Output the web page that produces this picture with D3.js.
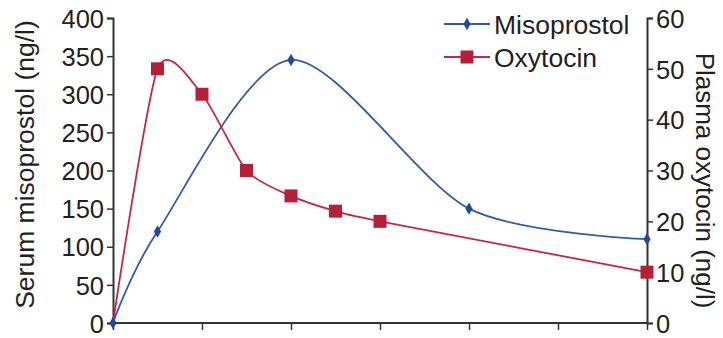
<!DOCTYPE html>
<html>
<head>
<meta charset="utf-8">
<script src="https://cdn.jsdelivr.net/npm/d3@7"></script>
<style>
  body { margin: 0; background: #fff; }
  svg text { font-family: "Liberation Sans", Arial, sans-serif; fill: #231f20; }
</style>
</head>
<body>
<div id="chart"></div>
<script>
// time points (x axis, no labels visible in the source)
const misoTimes = [0, 0.5, 2, 4, 6]
const misoValues = [0, 120, 345, 150, 110]          // serum misoprostol ng/l (left axis)
const oxyTimes = [0, 0.5, 1, 1.5, 2, 2.5, 3, 6]
const oxyValues = [0, 50, 45, 30, 25, 22, 20, 10]   // plasma oxytocin ng/l (right axis)
const xTicks = [0, 1, 2, 3, 4, 5, 6]
const leftTicks = [0, 50, 100, 150, 200, 250, 300, 350, 400]
const rightTicks = [0, 10, 20, 30, 40, 50, 60]
const seriesNames = ['Misoprostol', 'Oxytocin']

let W = 723, H = 338
let margin = {top: 18, right: 76, bottom: 15, left: 113}
let width = W - margin.left - margin.right,
    height = H - margin.top - margin.bottom

const blue = '#2f5ba8', blueDark = '#1f4a9c',
      red = '#c4283f', redDark = '#b51f37',
      axisCol = '#333'

let svg = d3.select('#chart').append('svg')
    .attr('width', W)
    .attr('height', H)
  .append('g')
    .attr('transform', `translate(${margin.left}, ${margin.top})`)

let x = d3.scaleLinear().domain([0, 6]).range([0, width])
let yL = d3.scaleLinear().domain([0, 400]).range([height, 0])
let yR = d3.scaleLinear().domain([0, 60]).range([height, 0])

// Axes
let xAxis = svg.append('g')
    .attr('transform', `translate(0, ${height})`)
    .call(d3.axisBottom(x).tickValues(xTicks).tickSize(7).tickFormat(''))
let left = svg.append('g')
    .call(d3.axisLeft(yL).tickValues(leftTicks).tickSize(6).tickPadding(3))
let right = svg.append('g')
    .attr('transform', `translate(${width}, 0)`)
    .call(d3.axisRight(yR).tickValues(rightTicks).tickSize(6).tickPadding(3))

;[xAxis, left, right].forEach(g => {
  g.select('.domain').attr('stroke', axisCol).attr('stroke-width', 2)
  g.selectAll('.tick line').attr('stroke', axisCol).attr('stroke-width', 1.5)
  g.selectAll('.tick text').style('font-size', '25.5px').attr('fill', '#231f20')
})
xAxis.select('.domain').attr('d', `M0,0H${width}`)
left.selectAll('.tick text').attr('dy', '0.36em')
right.selectAll('.tick text').attr('dy', '0.36em')

// Axis titles
svg.append('text')
    .attr('transform', 'rotate(-90)')
    .attr('x', -height / 2 + 6)
    .attr('y', -margin.left + 34)
    .style('text-anchor', 'middle')
    .style('font-size', '26.5px')
    .text('Serum misoprostol (ng/l)')

svg.append('text')
    .attr('transform', `translate(${width + 49}, ${height / 2 + 10}) rotate(90)`)
    .style('text-anchor', 'middle')
    .style('font-size', '26px')
    .text('Plasma oxytocin (ng/l)')

// Lines (smoothed like the original)
let misoData = misoTimes.map((t, i) => [t, misoValues[i]])
let oxyData = oxyTimes.map((t, i) => [t, oxyValues[i]])

let misoLine = d3.line()
    .x(d => x(d[0])).y(d => yL(d[1]))
    .curve(d3.curveCardinal.tension(0.15))
let oxyLine = d3.line()
    .x(d => x(d[0])).y(d => yR(d[1]))
    .curve(d3.curveCardinal.tension(0.3))

svg.append('path')
    .datum(misoData)
    .attr('d', misoLine)
    .attr('fill', 'none')
    .attr('stroke', blue)
    .attr('stroke-width', 1.8)

svg.append('path')
    .datum(oxyData)
    .attr('d', oxyLine)
    .attr('fill', 'none')
    .attr('stroke', red)
    .attr('stroke-width', 1.8)

let diamond = d3.symbol().type(d3.symbolDiamond).size(45)

svg.selectAll('.miso')
    .data(misoData)
    .enter()
  .append('path')
    .attr('class', 'miso')
    .attr('d', diamond)
    .attr('transform', d => `translate(${x(d[0])}, ${yL(d[1])})`)
    .attr('fill', blueDark)

svg.selectAll('.oxy')
    .data(oxyData.slice(1))
    .enter()
  .append('rect')
    .attr('class', 'oxy')
    .attr('x', d => x(d[0]) - 6.5)
    .attr('y', d => yR(d[1]) - 6.5)
    .attr('width', 13)
    .attr('height', 13)
    .attr('fill', redDark)

// Legend
let legend = svg.append('g')
    .attr('transform', `translate(${444 - margin.left}, ${24 - margin.top})`)

seriesNames.forEach((name, i) => {
  let g = legend.append('g').attr('transform', `translate(0, ${i * 33})`)
  g.append('line')
      .attr('x1', 0).attr('x2', 46)
      .attr('stroke', i ? red : blue)
      .attr('stroke-width', 1.8)
  if (i) {
    g.append('rect').attr('x', 16.5).attr('y', -6.5).attr('width', 13).attr('height', 13).attr('fill', redDark)
  } else {
    g.append('path').attr('d', diamond).attr('transform', 'translate(23, 0)').attr('fill', blueDark)
  }
  g.append('text')
      .attr('x', 50)
      .attr('dy', '0.36em')
      .style('font-size', '26.5px')
      .text(name)
})
</script>
</body>
</html>
